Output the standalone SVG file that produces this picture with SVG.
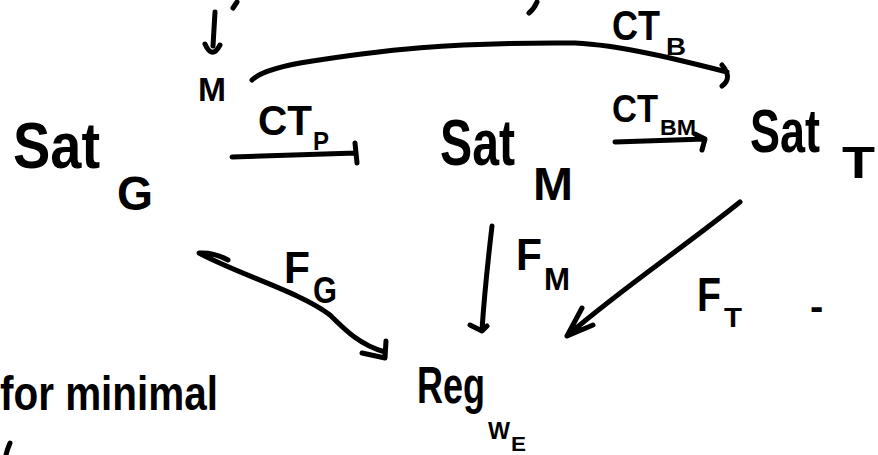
<svg xmlns="http://www.w3.org/2000/svg" width="878" height="455" viewBox="0 0 878 455">
<style>
.t{font-family:"Liberation Sans",Arial,sans-serif;fill:#000;font-weight:bold}
.s{fill:none;stroke:#000;stroke-width:5;stroke-linecap:round;stroke-linejoin:round}
</style>
<rect width="878" height="455" fill="#fff"/>
<g id="marks">
<path class="s" d="M237,2 L233,8"/>
<path class="s" d="M537,2 Q534,9 529,13"/>
<path class="s" d="M10,443 Q7,450 6,455"/>
</g>
<g id="satG">
<text class="t" x="13" y="168" font-size="64" textLength="87" lengthAdjust="spacingAndGlyphs">Sat</text>
<text class="t" x="117" y="210" font-size="48" textLength="36" lengthAdjust="spacingAndGlyphs">G</text>
</g>
<g id="M_top">
<text class="t" x="198" y="101" font-size="34" textLength="28" lengthAdjust="spacingAndGlyphs">M</text>
</g>
<g id="satM">
<text class="t" x="440" y="165" font-size="64" textLength="75" lengthAdjust="spacingAndGlyphs">Sat</text>
<text class="t" x="533" y="200" font-size="46" textLength="40" lengthAdjust="spacingAndGlyphs">M</text>
</g>
<g id="satT">
<text class="t" x="750" y="152" font-size="62" textLength="70" lengthAdjust="spacingAndGlyphs">Sat</text>
<text class="t" x="842" y="178" font-size="44" textLength="33" lengthAdjust="spacingAndGlyphs">T</text>
</g>
<g id="reg">
<text class="t" x="417" y="403" font-size="52" textLength="68" lengthAdjust="spacingAndGlyphs">Reg</text>
<text class="t" x="488" y="439" font-size="24" textLength="22" lengthAdjust="spacingAndGlyphs">W</text>
<text class="t" x="511" y="451" font-size="20" textLength="15" lengthAdjust="spacingAndGlyphs">E</text>
</g>
<g id="note">
<text class="t" x="0" y="410" font-size="48" textLength="218" lengthAdjust="spacingAndGlyphs">for minimal</text>
<text class="t" x="810" y="320" font-size="40">-</text>
</g>
<g id="connectors">
<path class="s" d="M215,12 L213,46 M205,44 Q212,60 220,45"/>
<path class="s" d="M252,80 Q262,70 300,63 C380,50 450,42 575,43 C620,45 680,60 727,72 M722,65 Q733,78 722,86"/>
<path class="s" d="M232,157 L356,153 M355,143 L357,163"/>
<path class="s" d="M615,142 L705,139 M695,134 L705,139 L702,150"/>
<path class="s" d="M228,260 Q214,252 199,253 C240,275 300,292 330,315 C345,330 360,345 385,352 M362,353 L385,358 L386,341"/>
<path class="s" d="M492,226 C488,260 484,300 482,330 M470,325 L482,331 L487,326"/>
<path class="s" d="M740,202 C680,250 620,290 568,335 M582,308 L567,336 L593,325"/>
</g>
<g id="labels">
<text class="t" x="258" y="135" font-size="42" textLength="54" lengthAdjust="spacingAndGlyphs">CT</text>
<text class="t" x="313" y="150" font-size="26" textLength="16" lengthAdjust="spacingAndGlyphs">P</text>
<text class="t" x="612" y="40" font-size="42" textLength="48" lengthAdjust="spacingAndGlyphs">CT</text>
<text class="t" x="666" y="55" font-size="24" textLength="20" lengthAdjust="spacingAndGlyphs">B</text>
<text class="t" x="612" y="122" font-size="38" textLength="46" lengthAdjust="spacingAndGlyphs">CT</text>
<text class="t" x="660" y="135" font-size="22" textLength="36" lengthAdjust="spacingAndGlyphs">BM</text>
<text class="t" x="284" y="283" font-size="44" textLength="26" lengthAdjust="spacingAndGlyphs">F</text>
<text class="t" x="313" y="303" font-size="36" textLength="24" lengthAdjust="spacingAndGlyphs">G</text>
<text class="t" x="516" y="270" font-size="44" textLength="26" lengthAdjust="spacingAndGlyphs">F</text>
<text class="t" x="544" y="290" font-size="32" textLength="26" lengthAdjust="spacingAndGlyphs">M</text>
<text class="t" x="697" y="311" font-size="48" textLength="24" lengthAdjust="spacingAndGlyphs">F</text>
<text class="t" x="724" y="327" font-size="28" textLength="18" lengthAdjust="spacingAndGlyphs">T</text>
</g>
</svg>
